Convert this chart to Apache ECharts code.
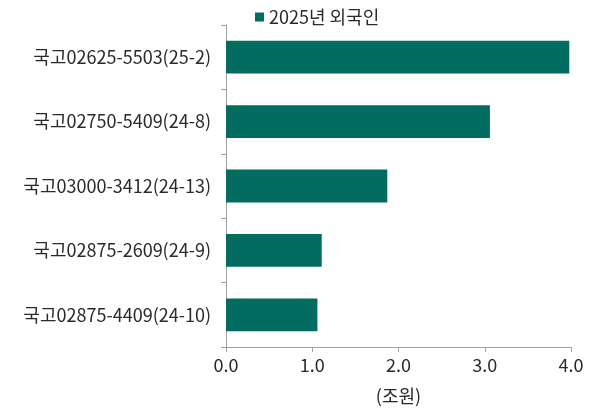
<!DOCTYPE html>
<html>
<head>
<meta charset="utf-8">
<script src="https://cdn.jsdelivr.net/npm/echarts@6/dist/echarts.min.js"></script>
<style>
  html, body { margin: 0; padding: 0; background: #fff; }
  #container { width: 590px; height: 410px; }
</style>
</head>
<body>
<div id="container"></div>
<script>
// 위에서 아래 순서 (y축은 inverse)
var categories = ['국고02625-5503(25-2)', '국고02750-5409(24-8)', '국고03000-3412(24-13)', '국고02875-2609(24-9)', '국고02875-4409(24-10)'];
var values = [3.98, 3.06, 1.87, 1.11, 1.06];
var seriesName = '2025년 외국인';
var xTicks = [0, 1, 2, 3, 4];

var dom = document.getElementById('container');
var myChart = echarts.init(dom);
var font = '"Noto Sans CJK KR", "Noto Sans", sans-serif';
var axisColor = '#a0a0a0';
var textColor = '#2a2a2a';
var fs = 18;

var option = {
    animation: false,
    textStyle: { fontFamily: font },
    legend: {
        data: [seriesName],
        top: 3,
        left: 250,
        icon: 'rect',
        itemWidth: 9,
        itemHeight: 9,
        itemGap: 5,
        textStyle: { fontSize: fs, color: textColor, fontFamily: font }
    },
    grid: {
        left: 226,
        right: 19,
        top: 25,
        bottom: 63
    },
    xAxis: {
        type: 'value',
        min: xTicks[0],
        max: xTicks[xTicks.length - 1],
        interval: 1,
        name: '(조원)',
        nameLocation: 'middle',
        nameGap: 40,
        nameTextStyle: { fontSize: fs, color: textColor, fontFamily: font },
        axisLine: { show: true, lineStyle: { color: axisColor } },
        axisTick: { show: true, length: 5, lineStyle: { color: axisColor } },
        splitLine: { show: false },
        axisLabel: {
            fontSize: fs,
            color: textColor,
            margin: 9,
            formatter: function (v) { return v.toFixed(1); }
        }
    },
    yAxis: {
        type: 'category',
        inverse: true,
        data: categories,
        axisLine: { show: true, lineStyle: { color: axisColor } },
        axisTick: { show: true, length: 5, lineStyle: { color: axisColor } },
        axisLabel: { fontSize: fs, color: textColor, margin: 15 }
    },
    series: [
        {
            name: seriesName,
            type: 'bar',
            barWidth: '51%',
            itemStyle: { color: '#036C60' },
            data: values
        }
    ]
};

myChart.setOption(option, true);
</script>
</body>
</html>
